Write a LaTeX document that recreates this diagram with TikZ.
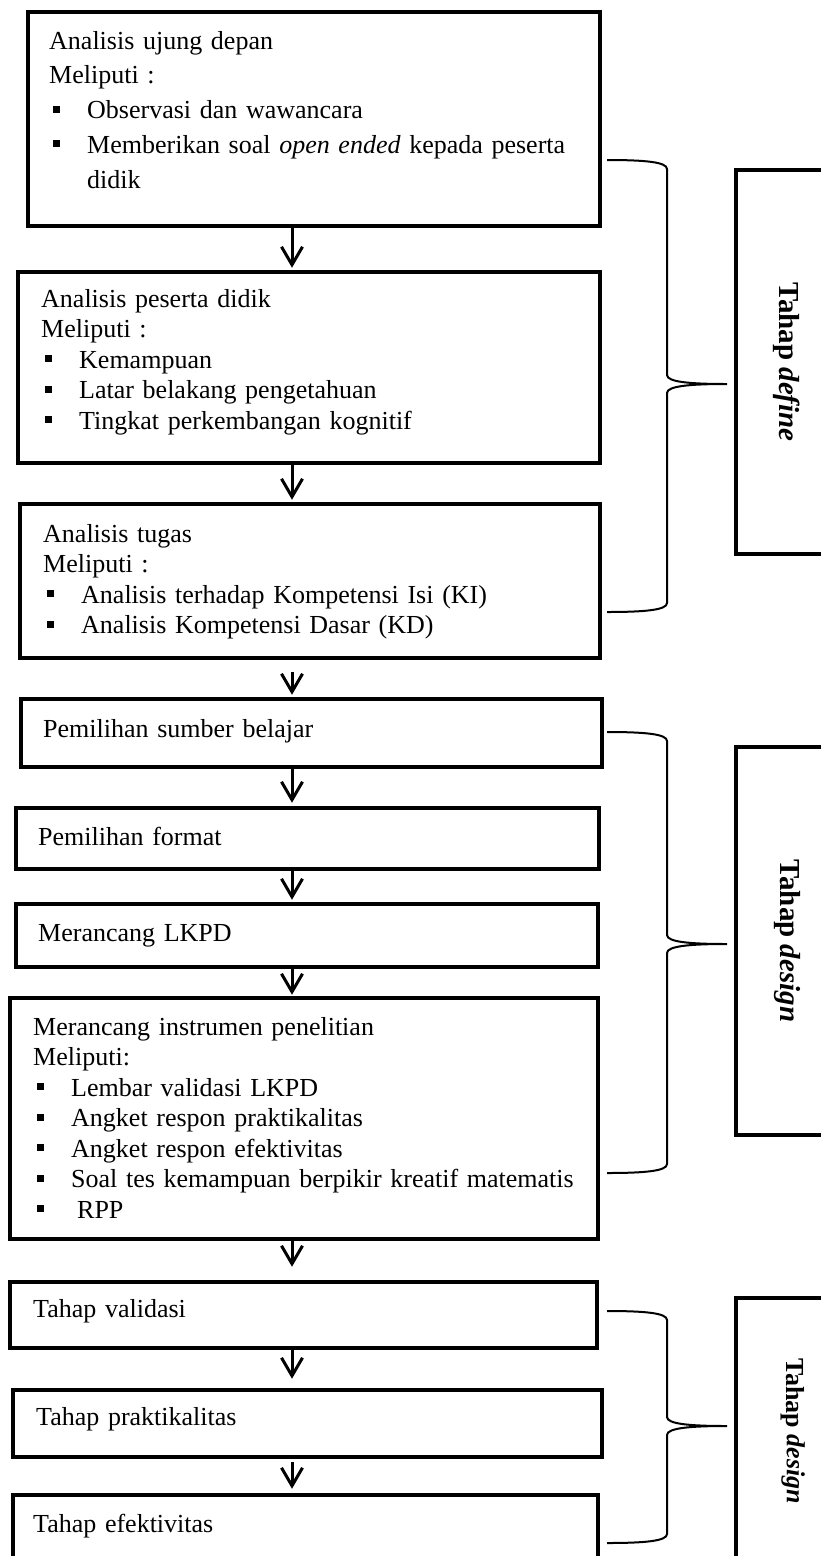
\documentclass[tikz,border=0pt]{standalone}
\usepackage{fontspec}
\setmainfont{Liberation Serif}
\usepackage{tikz}
\usetikzlibrary{arrows.meta}

\tikzset{
  box/.style={draw, line width=4.5pt, inner sep=0pt},
  stagebox/.style={draw, line width=4.5pt, inner sep=0pt, rotate=-90, font=\fontsize{29}{34}\selectfont\bfseries},
  txt/.style={inner sep=0pt, anchor=base west, text width=570pt, align=left, font=\fontsize{26}{30.5}\selectfont},
  arr/.style={line width=3pt, -{Straight Barb[length=18pt,width=21pt]}},
  curly/.style={line width=2pt}
}
\newcommand{\itm}{\hspace*{4pt}\makebox[34pt][l]{\raisebox{6pt}{\rule{7pt}{7pt}}}}
\newcommand{\phasebrace}[3]{%
  \draw[curly] (607,#1) .. controls (645,#1) and (667,#1+2) .. (667,#1+9)
    -- (667,#2-9) .. controls (667,#2-2) and (690,#2) .. (727,#2)
    .. controls (690,#2) and (667,#2+2) .. (667,#2+9)
    -- (667,#3-9) .. controls (667,#3-2) and (645,#3) .. (607,#3);}

\begin{document}
\begin{tikzpicture}[x=1pt, y=-1pt]
\clip (0,0) rectangle (821,1556);

% kotak alur
\node[box, minimum width=572pt, minimum height=214pt] (b1) at (314,119) {};
\node[box, minimum width=582pt, minimum height=191pt] (b2) at (309,367.5) {};
\node[box, minimum width=580pt, minimum height=154pt] (b3) at (310,581) {};
\node[box, minimum width=581pt, minimum height=68pt] (b4) at (311.5,733) {};
\node[box, minimum width=583pt, minimum height=61pt] (b5) at (307.5,838.5) {};
\node[box, minimum width=582pt, minimum height=63pt] (b6) at (307,935.5) {};
\node[box, minimum width=588pt, minimum height=241pt] (b7) at (304,1118.5) {};
\node[box, minimum width=587pt, minimum height=66pt] (b8) at (303.5,1315) {};
\node[box, minimum width=589pt, minimum height=67pt] (b9) at (307.5,1423.5) {};
\node[box, minimum width=585pt, minimum height=75pt] (b10) at (305.5,1532.5) {};

% isi kotak
\node[txt, font=\fontsize{26}{34.75}\selectfont] (t1) at (49,49) {Analisis ujung depan\\Meliputi :\\\itm Observasi dan wawancara\\\itm\makebox[492pt][s]{Memberikan soal \textit{open ended} kepada peserta}\\\hspace*{38pt}didik};
\node[txt] (t2) at (41,307) {Analisis peserta didik\\Meliputi :\\\itm Kemampuan\\\itm Latar belakang pengetahuan\\\itm Tingkat perkembangan kognitif};
\node[txt] (t3) at (43,542) {Analisis tugas\\Meliputi :\\\itm Analisis terhadap Kompetensi Isi (KI)\\\itm Analisis Kompetensi Dasar (KD)};
\node[txt] (t4) at (43,737) {Pemilihan sumber belajar};
\node[txt] (t5) at (38,845) {Pemilihan format};
\node[txt] (t6) at (38,941) {Merancang LKPD};
\node[txt] (t7) at (33,1035) {Merancang instrumen penelitian\\Meliputi:\\\itm Lembar validasi LKPD\\\itm Angket respon praktikalitas\\\itm Angket respon efektivitas\\\itm Soal tes kemampuan berpikir kreatif matematis\\\itm\hspace{6pt}RPP};
\node[txt] (t8) at (33,1317) {Tahap validasi};
\node[txt] (t9) at (36,1425) {Tahap praktikalitas};
\node[txt] (t10) at (33,1532) {Tahap efektivitas};

% panah
\coordinate (ax) at (292,0);
\draw[arr, shorten >=2pt] (b1.south -| ax) -- (b2.north -| ax);
\draw[arr, shorten >=2pt] (b2.south -| ax) -- (b3.north -| ax);
\draw[arr, shorten <=12pt, shorten >=2pt] (b3.south -| ax) -- (b4.north -| ax);
\draw[arr, shorten >=3pt] (b4.south -| ax) -- (b5.north -| ax);
\draw[arr, shorten >=2pt] (b5.south -| ax) -- (b6.north -| ax);
\draw[arr, shorten >=1pt] (b6.south -| ax) -- (b7.north -| ax);
\draw[arr, shorten >=13pt] (b7.south -| ax) -- (b8.north -| ax);
\draw[arr, shorten >=9pt] (b8.south -| ax) -- (b9.north -| ax);
\draw[arr, shorten <=3pt, shorten >=4pt] (b9.south -| ax) -- (b10.north -| ax);

% kurung kurawal
\phasebrace{160}{384}{612}
\phasebrace{732}{944}{1173}
\phasebrace{1311}{1426}{1543}

% tahap
\node[stagebox, minimum width=384pt, minimum height=102pt] (s1) at (787,362) {Tahap \textit{define}};
\node[stagebox, minimum width=388pt, minimum height=102pt] (s2) at (787,941) {Tahap \textit{design}};
\node[stagebox, minimum width=266pt, minimum height=114pt, font=\fontsize{26}{30}\selectfont\bfseries] (s3) at (793,1431) {Tahap \textit{design}};
\end{tikzpicture}
\end{document}
